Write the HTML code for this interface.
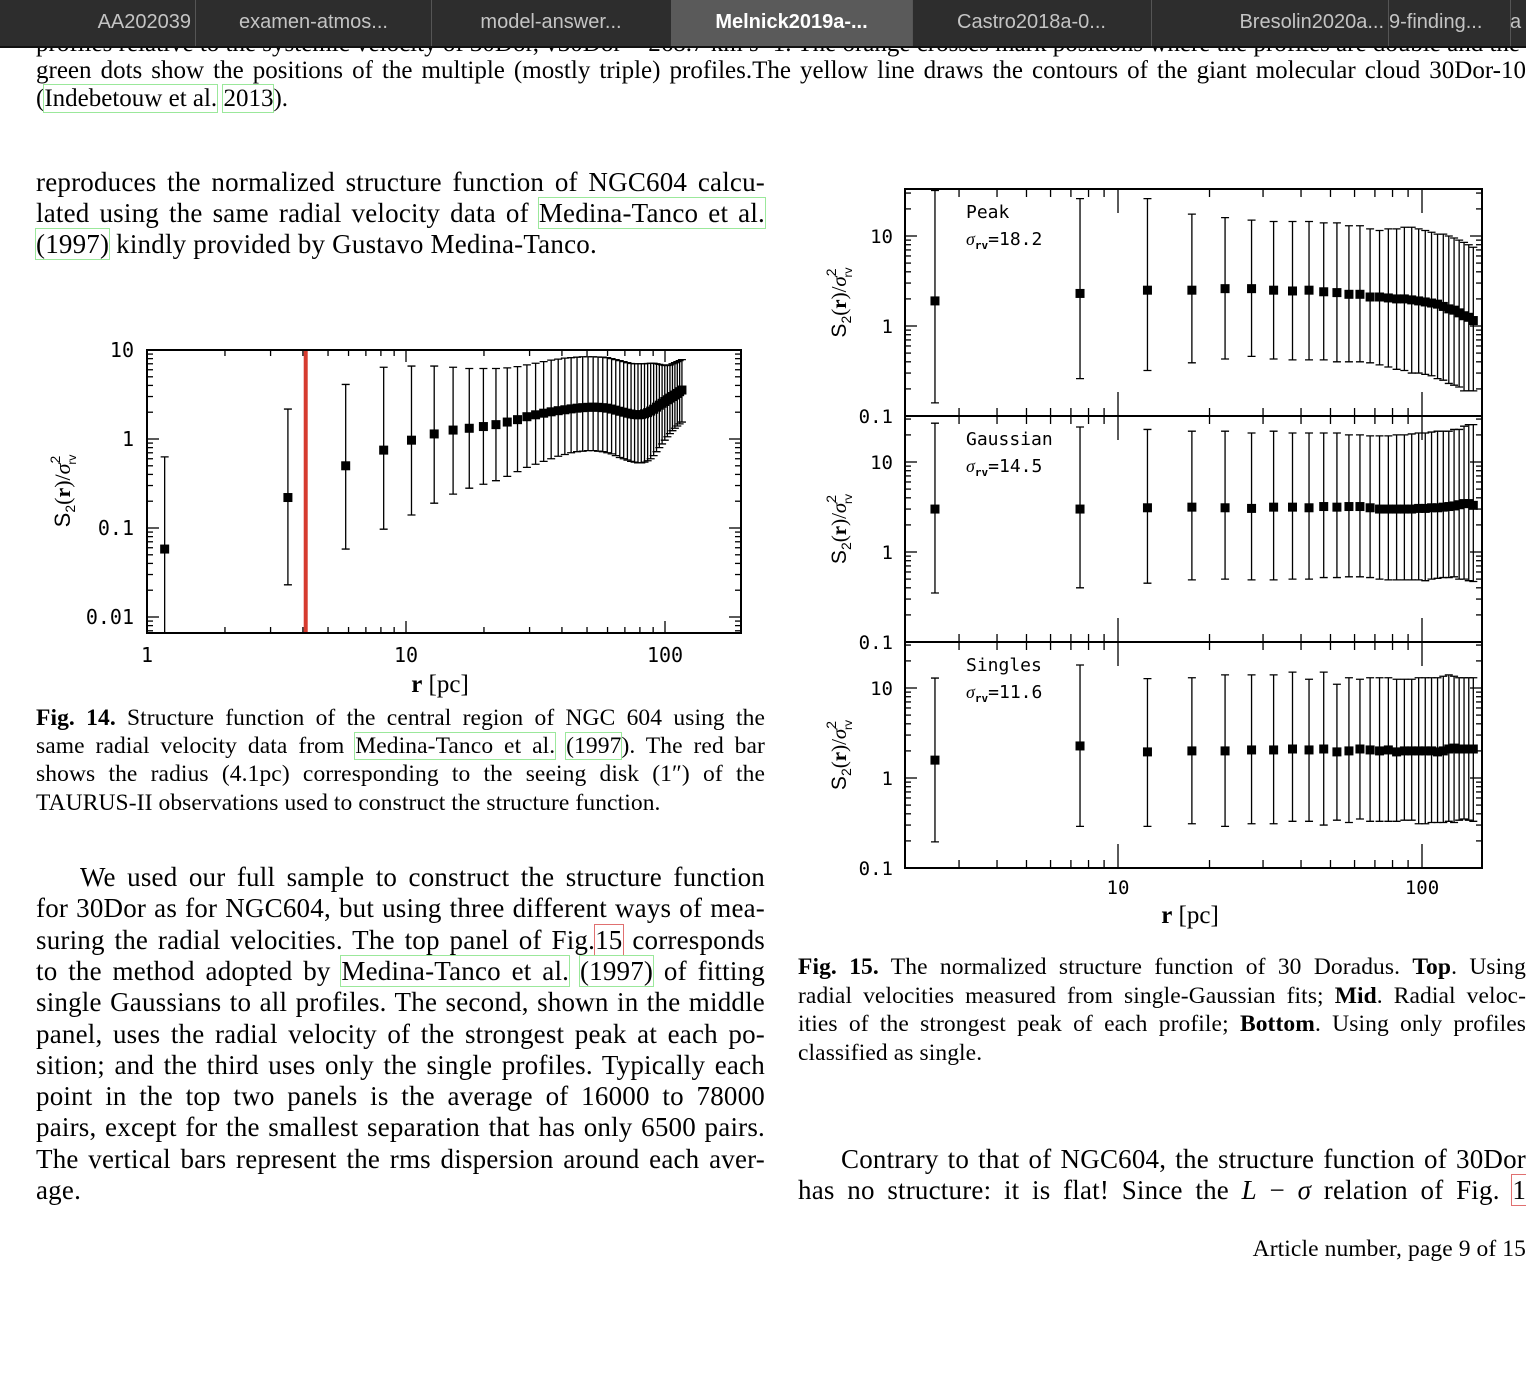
<!DOCTYPE html>
<html><head><meta charset="utf-8">
<style>
html,body{margin:0;padding:0;background:#fff;}
body{width:1526px;height:1374px;position:relative;overflow:hidden;font-family:"Liberation Serif",serif;color:#000;}
.ln{position:absolute;white-space:nowrap;text-align:justify;text-align-last:justify;}
.l{text-align:left;text-align-last:left;}
.b{font-size:27px;line-height:31px;height:31px;letter-spacing:0.2px;}
.c{font-size:23.5px;line-height:28px;height:28px;letter-spacing:0.1px;}
.g{outline:1px solid #9be89b;outline-offset:0px;}
.r{outline:1px solid #e07070;}
#tabs{position:absolute;left:0;top:0;width:1526px;height:46px;background:#2d2d2d;border-bottom:2px solid #111;font-family:"Liberation Sans",sans-serif;font-size:20px;color:#c4c4c4;}
.tab{position:absolute;top:0;height:46px;line-height:44px;text-align:center;border-right:1px solid #555;overflow:hidden;white-space:nowrap;}
svg text{font-family:"DejaVu Sans Mono","Liberation Mono",monospace;}
</style></head>
<body>
<div class="ln l" style="left:36px;top:30px;font-size:25px;line-height:28px;">profiles relative to the systemic velocity of 30Dor, v30Dor = 268.7 km s−1. The orange crosses mark positions where the profiles are double and the</div>
<div id="tabs">
 <div class="tab" style="left:0;width:196px;text-align:right;padding-right:4px;box-sizing:border-box;">AA202039</div>
 <div class="tab" style="left:196px;width:235px;">examen-atmos...</div>
 <div class="tab" style="left:431px;width:240px;">model-answer...</div>
 <div class="tab" style="left:671px;width:241px;background:#5a5a5a;color:#fff;font-weight:bold;">Melnick2019a-...</div>
 <div class="tab" style="left:912px;width:239px;">Castro2018a-0...</div>
 <div class="tab" style="left:1151px;width:238px;text-align:right;padding-right:4px;box-sizing:border-box;">Bresolin2020a...</div>
 <div class="tab" style="left:1389px;width:121px;text-align:left;">9-finding...</div>
 <div class="tab" style="left:1510px;width:16px;text-align:left;border-right:none;">a</div>
</div>

<div class="ln" style="left:36px;top:57px;width:1490px;font-size:25px;line-height:28px;">green dots show the positions of the multiple (mostly triple) profiles.The yellow line draws the contours of the giant molecular cloud 30Dor-10</div>
<div class="ln l" style="left:36px;top:85px;font-size:25px;line-height:28px;">(<span class="g">Indebetouw et al.</span> <span class="g">2013</span>).</div>

<div class="ln b" style="left:36px;top:167px;width:729px;">reproduces the normalized structure function of NGC604 calcu-</div>
<div class="ln b" style="left:36px;top:198px;width:729px;">lated using the same radial velocity data of <span class="g">Medina-Tanco et al.</span></div>
<div class="ln b l" style="left:36px;top:229px;"><span class="g">(1997)</span> kindly provided by Gustavo Medina-Tanco.</div>

<div class="ln c" style="left:36px;top:704px;width:729px;"><b>Fig. 14.</b> Structure function of the central region of NGC 604 using the</div>
<div class="ln c" style="left:36px;top:732px;width:729px;">same radial velocity data from <span class="g">Medina-Tanco et al.</span> <span class="g">(1997</span>). The red bar</div>
<div class="ln c" style="left:36px;top:760px;width:729px;">shows the radius (4.1pc) corresponding to the seeing disk (1″) of the</div>
<div class="ln c l" style="left:36px;top:789px;">TAURUS-II observations used to construct the structure function.</div>

<div class="ln b" style="left:80px;top:862px;width:685px;">We used our full sample to construct the structure function</div>
<div class="ln b" style="left:36px;top:893px;width:729px;">for 30Dor as for NGC604, but using three different ways of mea-</div>
<div class="ln b" style="left:36px;top:925px;width:729px;">suring the radial velocities. The top panel of Fig.<span class="r">15</span> corresponds</div>
<div class="ln b" style="left:36px;top:956px;width:729px;">to the method adopted by <span class="g">Medina-Tanco et al.</span> <span class="g">(1997)</span> of fitting</div>
<div class="ln b" style="left:36px;top:987px;width:729px;">single Gaussians to all profiles. The second, shown in the middle</div>
<div class="ln b" style="left:36px;top:1019px;width:729px;">panel, uses the radial velocity of the strongest peak at each po-</div>
<div class="ln b" style="left:36px;top:1050px;width:729px;">sition; and the third uses only the single profiles. Typically each</div>
<div class="ln b" style="left:36px;top:1081px;width:729px;">point in the top two panels is the average of 16000 to 78000</div>
<div class="ln b" style="left:36px;top:1112px;width:729px;">pairs, except for the smallest separation that has only 6500 pairs.</div>
<div class="ln b" style="left:36px;top:1144px;width:729px;">The vertical bars represent the rms dispersion around each aver-</div>
<div class="ln b l" style="left:36px;top:1175px;">age.</div>

<div class="ln c" style="left:798px;top:953px;width:728px;"><b>Fig. 15.</b> The normalized structure function of 30 Doradus. <b>Top</b>. Using</div>
<div class="ln c" style="left:798px;top:982px;width:728px;">radial velocities measured from single-Gaussian fits; <b>Mid</b>. Radial veloc-</div>
<div class="ln c" style="left:798px;top:1010px;width:728px;">ities of the strongest peak of each profile; <b>Bottom</b>. Using only profiles</div>
<div class="ln c l" style="left:798px;top:1039px;">classified as single.</div>

<div class="ln b" style="left:841px;top:1144px;width:685px;">Contrary to that of NGC604, the structure function of 30Dor</div>
<div class="ln b" style="left:798px;top:1175px;width:728px;">has no structure: it is flat! Since the <i>L</i> − <i>σ</i> relation of Fig. <span class="r">1</span></div>
<div class="ln c l" style="right:0;top:1235px;">Article number, page 9 of 15</div>

<svg id="chart" width="1526" height="1374" style="position:absolute;left:0;top:0;pointer-events:none;" xmlns="http://www.w3.org/2000/svg">
<defs>
<clipPath id="clipL"><rect x="147" y="350" width="594" height="283"/></clipPath>
<clipPath id="clipP0"><rect x="905" y="189" width="577" height="227"/></clipPath>
<clipPath id="clipP1"><rect x="905" y="416" width="577" height="226"/></clipPath>
<clipPath id="clipP2"><rect x="905" y="642" width="577" height="226"/></clipPath>
</defs>
</svg>

<script>
// ---- Fig 14 (NGC 604) data ----
const leftR = [1.17,3.5,5.85,8.2,10.5,12.85,15.2,17.55,19.9,22.25,24.6,26.95,29.3,31.65,34.0,36.35,38.7,41.05,43.4,45.75,48.1,50.45,52.8,55.15,57.5,59.85,62.2,64.55,66.9,69.25,71.6,73.95,76.3,78.65,81.0,83.35,85.7,88.05,90.4,92.75,95.1,97.45,99.8,102.15,104.5,106.85,109.2,111.55,113.9,116.25];
const leftS = [0.058,0.22,0.50,0.75,0.97,1.14,1.26,1.32,1.38,1.45,1.55,1.65,1.78,1.87,1.95,2.02,2.08,2.13,2.18,2.22,2.25,2.27,2.28,2.27,2.25,2.22,2.17,2.11,2.05,2.0,1.95,1.91,1.88,1.87,1.88,1.92,1.98,2.06,2.16,2.28,2.4,2.52,2.64,2.76,2.88,3.0,3.12,3.25,3.4,3.55];
const leftHi = [0.63,2.17,4.1,6.4,6.6,6.6,6.4,6.2,6.2,6.2,6.3,6.5,6.8,7.1,7.4,7.7,7.9,8.1,8.2,8.3,8.4,8.4,8.4,8.35,8.3,8.2,8.0,7.8,7.6,7.4,7.2,7.05,7.0,7.0,7.0,7.0,7.05,7.1,7.1,7.0,6.9,6.8,6.7,6.7,6.8,7.0,7.2,7.4,7.6,7.8];
const leftLo = [0.005,0.023,0.058,0.097,0.14,0.19,0.24,0.28,0.31,0.34,0.38,0.43,0.48,0.52,0.56,0.6,0.64,0.67,0.7,0.72,0.73,0.74,0.74,0.73,0.72,0.7,0.68,0.65,0.62,0.6,0.58,0.56,0.55,0.54,0.54,0.55,0.57,0.6,0.65,0.72,0.8,0.88,0.97,1.06,1.15,1.24,1.32,1.4,1.48,1.55];
const seeingRadius = 4.1;
const leftXTicks = ["1","10","100"];
const leftYTicks = ["0.01","0.1","1","10"];

// ---- Fig 15 (30 Doradus) data ----
const rightR = [2.5,7.5,12.5,17.5,22.5,27.5,32.5,37.5,42.5,47.5,52.5,57.5,62.5,67.5,72.5,77.5,82.5,87.5,92.5,97.5,102.5,107.5,112.5,117.5,122.5,127.5,132.5,137.5,142.5,147.5];
const peakS = [1.9,2.3,2.5,2.5,2.6,2.6,2.5,2.45,2.5,2.4,2.35,2.25,2.25,2.1,2.1,2.05,2.0,2.0,1.95,1.9,1.85,1.8,1.75,1.65,1.55,1.5,1.4,1.3,1.25,1.15];
const peakHi = [32,26,26,17.5,16,15,14.5,14.5,14.5,14,14,13,13,12,11.5,12,12,12.5,12.5,12,11.5,11,10.5,10.5,10,9.5,9,8.5,8,7.5];
const peakLo = [0.14,0.26,0.32,0.39,0.43,0.46,0.43,0.42,0.42,0.42,0.4,0.4,0.4,0.39,0.37,0.35,0.33,0.32,0.3,0.3,0.29,0.28,0.26,0.25,0.23,0.22,0.21,0.19,0.19,0.19];
const gaussS = [3.0,3.0,3.1,3.15,3.1,3.05,3.15,3.15,3.1,3.2,3.15,3.2,3.2,3.1,3.0,3.0,3.0,3.0,3.0,3.05,3.05,3.1,3.1,3.15,3.2,3.25,3.35,3.45,3.45,3.3];
const gaussHi = [27,24.5,23,22,22,21,22,21,21,21,21,20,20,19.5,19.5,19.5,20,20,20.5,21,21,21.5,22,22,22,23,23,25,26,26];
const gaussLo = [0.35,0.4,0.45,0.49,0.5,0.49,0.49,0.5,0.5,0.52,0.52,0.53,0.53,0.52,0.5,0.49,0.49,0.49,0.49,0.49,0.48,0.5,0.51,0.52,0.52,0.53,0.5,0.5,0.48,0.47];
const singS = [1.58,2.27,1.95,2.0,2.0,2.05,2.05,2.1,2.05,2.1,1.95,2.0,2.1,2.05,2.0,2.05,1.95,2.0,2.0,2.0,2.0,2.0,1.95,2.0,2.1,2.15,2.1,2.1,2.1,2.1];
const singHi = [12.9,18,12.7,13,14,14,14,15,12.5,15,11,13,12.5,13,13,13,12.5,12.5,12.5,13,13,13,13,13.5,14,13.5,13,13,13,13];
const singLo = [0.195,0.29,0.29,0.31,0.29,0.31,0.31,0.33,0.33,0.3,0.34,0.32,0.35,0.33,0.33,0.33,0.33,0.34,0.34,0.31,0.31,0.32,0.32,0.32,0.33,0.32,0.34,0.35,0.34,0.33];
const panelNames = ["Peak","Gaussian","Singles"];
const panelSigma = ["18.2","14.5","11.6"];
const rightXTicks = ["10","100"];
const rightYTicks = ["0.1","1","10"];

const NS = "http://www.w3.org/2000/svg";
const svg = document.getElementById("chart");
function mk(tag, attrs, parent){
  const e = document.createElementNS(NS, tag);
  for (const k in attrs) e.setAttribute(k, attrs[k]);
  if (attrs["font-family"]) e.style.fontFamily = attrs["font-family"];
  (parent || svg).appendChild(e);
  return e;
}
const L = Math.log10;
const YTITLE = 'S<tspan font-size="14" dy="5">2</tspan><tspan dy="-5" style="font-family:Liberation Serif, serif">(<tspan font-weight="bold">r</tspan>)/</tspan><tspan font-style="italic" style="font-family:Liberation Serif, serif">σ</tspan><tspan font-size="14" dy="-10">2</tspan><tspan font-size="12" dx="-9" dy="16">rv</tspan>';

// ---------- Left chart ----------
const LX0 = 147, LX1 = 741, LY0 = 350, LY1 = 633;
function lx(r){ return 147 + 259 * L(r); }
function ly(v){ return 439 - 89 * L(v); }

const gL = mk("g", {});



for (let d = 0; d <= 2; d++) {
  for (let m = 1; m <= 9; m++) {
    const v = m * Math.pow(10, d);
    const x = lx(v);
    if (x > LX1 - 1) continue;
    const len = m === 1 ? 12 : 6;
    const t1 = mk("line", {x1:x, y1:LY1, x2:x, y2:LY1-len, stroke:"#000","stroke-width":1.3}, gL);
    
    
    const t2 = mk("line", {x1:x, y1:LY0, x2:x, y2:LY0+len, stroke:"#000","stroke-width":1.3}, gL);
    
    
  }
}
for (let d = -3; d <= 1; d++) {
  for (let m = 1; m <= 9; m++) {
    const v = m * Math.pow(10, d);
    const y = ly(v);
    if (y < LY0 || y > LY1) continue;
    const len = m === 1 ? 12 : 6;
    const t1 = mk("line", {x1:LX0, y1:y, x2:LX0+len, y2:y, stroke:"#000","stroke-width":1.3}, gL);
    
    
    const t2 = mk("line", {x1:LX1, y1:y, x2:LX1-len, y2:y, stroke:"#000","stroke-width":1.3}, gL);
    
    
  }
}
leftXTicks.forEach(s => {
  const t = mk("text", {x:lx(parseFloat(s)), y:662, "font-size":20, "text-anchor":"middle"}, gL);
  t.textContent = s;
  
  
});
leftYTicks.forEach(s => {
  const t = mk("text", {x:134, y:ly(parseFloat(s))+7, "font-size":20, "text-anchor":"end"}, gL);
  t.textContent = s;
  
  
});
{
  const t = mk("text", {x:440, y:692, "font-size":25, "text-anchor":"middle", "font-family":"Liberation Serif, serif"}, gL);
  t.innerHTML = '<tspan font-weight="bold">r</tspan> [pc]';
  
  
  const yt = mk("text", {x:0, y:0, "font-size":22, "text-anchor":"middle", "font-family":"Liberation Sans, sans-serif", transform:"translate(70,491) rotate(-90)"}, gL);
  yt.innerHTML = YTITLE;
  
  
}
{
  const rb = mk("line", {x1:lx(seeingRadius), y1:LY0, x2:lx(seeingRadius), y2:LY1, stroke:"#d63b2f","stroke-width":4}, gL);
  
  
}
const gLd = mk("g", {"clip-path":"url(#clipL)"}, gL);
leftR.forEach((r, i) => {
  const x = lx(r);
  const eb = mk("path", {d:`M${x},${ly(leftHi[i])}V${ly(leftLo[i])}M${x-4},${ly(leftHi[i])}h8M${x-4},${ly(leftLo[i])}h8`, stroke:"#000","stroke-width":1.3, fill:"none"}, gLd);
  
  
});
leftR.forEach((r, i) => {
  const p = mk("rect", {x:lx(r)-4.5, y:ly(leftS[i])-4.5, width:9, height:9, fill:"#000"}, gLd);
  
  
});
{
  const f = mk("rect", {x:LX0, y:LY0, width:LX1-LX0, height:LY1-LY0, fill:"none", stroke:"#000","stroke-width":2}, gL);
  
  
}

// ---------- Right chart (3 panels) ----------
const RX0 = 905, RX1 = 1482;
const panelTop = [189, 416, 642];
const panelOne = [326, 552, 778];
const panelBot = [416, 642, 868];
function rx(r){ return 1118 + 304 * (L(r) - 1); }
const series = [[peakS,peakHi,peakLo],[gaussS,gaussHi,gaussLo],[singS,singHi,singLo]];

const gR = mk("g", {});



for (let p = 0; p < 3; p++) {
  const gp = mk("g", {}, gR);
  
  
  const top = panelTop[p], bot = panelBot[p], one = panelOne[p];
  const py = v => one - 90 * L(v);
  for (let d = 0; d <= 2; d++) for (let m = 1; m <= 9; m++) {
    const v = m * Math.pow(10, d), x = rx(v);
    if (x <= RX0 + 1 || x >= RX1 - 1) continue;
    const len = m === 1 ? 24 : 8;
    const a = mk("line", {x1:x, y1:bot, x2:x, y2:bot-len, stroke:"#000","stroke-width":1.3}, gp);
    
    
    const b = mk("line", {x1:x, y1:top, x2:x, y2:top+len, stroke:"#000","stroke-width":1.3}, gp);
    
    
  }
  for (let d = -1; d <= 1; d++) for (let m = 1; m <= 9; m++) {
    const v = m * Math.pow(10, d), y = py(v);
    if (y < top || y > bot) continue;
    const len = m === 1 ? 12 : 6;
    const a = mk("line", {x1:RX0, y1:y, x2:RX0+len, y2:y, stroke:"#000","stroke-width":1.3}, gp);
    
    
    const b = mk("line", {x1:RX1, y1:y, x2:RX1-len, y2:y, stroke:"#000","stroke-width":1.3}, gp);
    
    
  }
  rightYTicks.forEach(s => {
    const t = mk("text", {x:893, y:py(parseFloat(s))+7, "font-size":19, "text-anchor":"end"}, gp);
    t.textContent = s;
    
    
  });
  const nm = mk("text", {x:966, y:top+29, "font-size":18}, gp);
  nm.textContent = panelNames[p];
  
  
  const sg = mk("text", {x:966, y:top+56, "font-size":18}, gp);
  sg.innerHTML = '<tspan font-style="italic" style="font-family:Liberation Serif, serif">σ</tspan><tspan font-size="11" dy="4" font-weight="bold">rv</tspan><tspan dy="-4">=' + panelSigma[p] + '</tspan>';
  
  
  const yt = mk("text", {x:0, y:0, "font-size":21, "text-anchor":"middle", "font-family":"Liberation Sans, sans-serif", transform:`translate(846,${(top+bot)/2}) rotate(-90)`}, gp);
  yt.innerHTML = YTITLE;
  
  

  const gd = mk("g", {"clip-path":`url(#clipP${p})`}, gp);
  const [S, H, Lo] = series[p];
  rightR.forEach((r, i) => {
    const x = rx(r);
    const eb = mk("path", {d:`M${x},${py(H[i])}V${py(Lo[i])}M${x-4},${py(H[i])}h8M${x-4},${py(Lo[i])}h8`, stroke:"#000","stroke-width":1.3, fill:"none"}, gd);
    
    
  });
  rightR.forEach((r, i) => {
    const pt = mk("rect", {x:rx(r)-4.5, y:py(S[i])-4.5, width:9, height:9, fill:"#000"}, gd);
    
    
  });
  const f = mk("rect", {x:RX0, y:top, width:RX1-RX0, height:bot-top, fill:"none", stroke:"#000","stroke-width":2}, gp);
  
  
}
rightXTicks.forEach(s => {
  const t = mk("text", {x:rx(parseFloat(s)), y:894, "font-size":19, "text-anchor":"middle"}, gR);
  t.textContent = s;
  
  
});
{
  const t = mk("text", {x:1190, y:923, "font-size":25, "text-anchor":"middle", "font-family":"Liberation Serif, serif"}, gR);
  t.innerHTML = '<tspan font-weight="bold">r</tspan> [pc]';
  
  
}
</script>
</body></html>
